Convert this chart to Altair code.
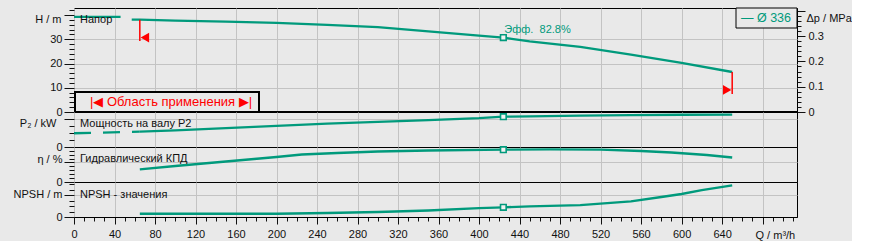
import altair as alt
import pandas as pd

# ---------------- data ----------------
Q_H = [57, 65, 100, 150, 200, 250, 300, 350, 400, 424, 450, 500, 550, 600, 650]
H_M = [38.1, 38.1, 37.7, 37.3, 36.8, 35.9, 35.0, 33.3, 31.5, 30.7, 29.1, 26.9, 23.7, 20.3, 16.5]
Q_H_EXT = [0, 46]
H_EXT = [39.2, 39.2]

Q_P2 = [65, 100, 150, 200, 250, 300, 350, 400, 424, 450, 500, 550, 600, 650]
P2_KW = [21.6, 23.6, 26.5, 29.8, 33.0, 35.6, 38.0, 40.7, 42.8, 43.3, 44.4, 45.0, 45.5, 45.6]
Q_P2_EXT = [0, 65]
P2_EXT = [19.4, 21.6]

Q_ETA = [65, 100, 150, 200, 225, 260, 300, 350, 424, 470, 520, 560, 590, 625, 650]
ETA = [32.5, 41.0, 52.5, 64.1, 70.5, 74.3, 78.2, 80.7, 82.8, 83.8, 82.8, 79.5, 75.6, 69.2, 62.8]

Q_NPSH = [65, 200, 250, 300, 350, 400, 424, 450, 500, 550, 580, 600, 620, 650]
NPSH = [1.5, 1.5, 1.84, 2.3, 3.0, 4.05, 4.46, 4.92, 5.43, 7.18, 9.2, 10.58, 12.33, 14.58]

Q_OP = 424
H_OP, P2_OP, ETA_OP, NPSH_OP = 30.7, 42.8, 82.8, 4.46
Q_MIN, Q_MAX = 65, 650
EFF_LABEL = "Эфф.\u00a0\u00a082.8%"
LEGEND_LABEL = "— Ø 336"
RANGE_LABEL = "|◀ Область применения ▶|"

# ---------------- style ----------------
TEAL = "#009a7c"
RED = "#ff0000"
BG = "#e9e9e9"
GRID = "#c3c3c3"
FONT = "Liberation Sans"
W = 723
XMAX = 714

xscale = alt.Scale(domain=[0, XMAX], nice=False, zero=False)


def grid_x_axis():
    return alt.Axis(values=list(range(0, XMAX, 40)), grid=True, gridColor=GRID,
                    labels=False, ticks=False, domain=False, title=None)


bottom_axis = alt.Axis(
    values=list(range(0, XMAX, 10)), grid=True, gridColor=GRID,
    gridOpacity={"condition": {"test": "datum.value % 40 == 0", "value": 1}, "value": 0},
    tickSize={"condition": {"test": "datum.value % 40 == 0", "value": 7}, "value": 4},
    labelExpr="datum.value % 40 == 0 && datum.value <= 640 ? datum.label : ''",
    labelOverlap=False, labelFlush=False, labelPadding=4, domain=True, domainColor="black",
    title="Q / m³/h", titleX=681, titleY=18, titleAlign="left", titleBaseline="middle",
)


def y_axis(vals, major_test, grid_test, label_test, title, tx, ty):
    return alt.Axis(
        values=vals, grid=True, gridColor=GRID,
        gridOpacity={"condition": {"test": grid_test, "value": 1}, "value": 0},
        tickSize={"condition": {"test": major_test, "value": 10}, "value": 5},
        labelExpr=f"{label_test} ? datum.label : ''", labelOverlap=False, labelPadding=2,
        domain=False, title=title, titleAngle=0, titleX=tx, titleY=ty,
        titleAlign="right", titleBaseline="middle",
    )


def df(q, v):
    return pd.DataFrame({"q": q, "v": v})


def curve(q, v, yenc, dash=None):
    kw = dict(color=TEAL, strokeWidth=2.3)
    if dash:
        kw["strokeDash"] = dash
    return alt.Chart(df(q, v)).mark_line(**kw).encode(
        x=alt.X("q:Q", scale=xscale, axis=grid_x_axis()), y=yenc)


def op_point(v, yenc, xaxis):
    return alt.Chart(df([Q_OP], [v])).mark_point(
        shape="square", filled=True, fill="#f2f2f2", stroke=TEAL, strokeWidth=1.6,
        size=32, opacity=1).encode(x=alt.X("q:Q", scale=xscale, axis=xaxis), y=yenc)


def label(text, x, y, **kw):
    base = dict(align="left", baseline="middle", fontSize=11, color="#111111", font=FONT)
    base.update(kw)
    return alt.Chart(pd.DataFrame({"t": [text]})).mark_text(**base).encode(
        x=alt.value(x), y=alt.value(y), text="t:N")


# ---------------- top panel: head ----------------
h_scale = alt.Scale(domain=[0, 42.9], nice=False, zero=False)
h_axis = y_axis(list(range(0, 43, 2)), "datum.value % 10 == 0",
                "datum.value > 0 && datum.value < 40 && datum.value % 10 == 0",
                "datum.value % 10 == 0 && datum.value < 40", "H / m", -13, 11)
yH = alt.Y("v:Q", scale=h_scale, axis=h_axis)

limits = pd.DataFrame({"q": [Q_MIN, Q_MAX], "v": [38.1, 16.5], "v2": [29.3, 7.4]})
arrows = pd.DataFrame({"q": [70, 645], "v": [30.7, 9.1], "s": ["triangle-left", "triangle-right"]})

top_inner = alt.layer(
    alt.Chart(df([0], [0])).mark_rule(color="black", strokeWidth=2).encode(y=yH),
    curve(Q_H_EXT, H_EXT, yH),
    curve(Q_H, H_M, yH),
    op_point(H_OP, yH, grid_x_axis()),
    alt.Chart(limits).mark_rule(color=RED, strokeWidth=1.5).encode(
        x=alt.X("q:Q", scale=xscale, axis=grid_x_axis()), y=yH, y2="v2"),
    alt.Chart(arrows).mark_point(filled=True, color=RED, opacity=1, size=95).encode(
        x=alt.X("q:Q", scale=xscale, axis=grid_x_axis()), y=yH,
        shape=alt.Shape("s:N", scale=None)),
    alt.Chart(df([Q_OP], [H_OP])).mark_text(
        align="left", baseline="middle", dx=1, dy=-8, fontSize=11, color=TEAL, font=FONT
    ).encode(x=alt.X("q:Q", scale=xscale, axis=grid_x_axis()), y=yH, text=alt.value(EFF_LABEL)),
    label("Напор", 6, 12),
    alt.Chart(pd.DataFrame({"a": [0]})).mark_rect(fill=BG, stroke="black", strokeWidth=1).encode(
        x=alt.value(662), x2=alt.value(723), y=alt.value(0), y2=alt.value(20)),
    label(LEGEND_LABEL, 692, 10, align="center", fontSize=12.5, color=TEAL),
    alt.Chart(pd.DataFrame({"a": [0]})).mark_rect(fill=BG, stroke="black", strokeWidth=2).encode(
        x=alt.value(1), x2=alt.value(185), y=alt.value(84), y2=alt.value(104)),
    label(RANGE_LABEL, 97, 94, align="center", fontSize=13, color=RED),
    alt.Chart(pd.DataFrame({"a": [0]})).mark_rule(color=BG, strokeWidth=0.01).encode(
        x=alt.value(-73), x2=alt.value(-72), y=alt.value(-7), y2=alt.value(-6)),
)

dp_axis = alt.Axis(
    orient="right", values=[round(i * 0.02, 2) for i in range(21)],
    tickSize={"condition": {"test": "round(datum.value * 50) % 5 == 0", "value": 8}, "value": 4},
    labelExpr="round(datum.value * 50) % 5 == 0 && datum.value < 0.35 ? format(datum.value, '~g') : ''",
    labelOverlap=False, labelPadding=3, grid=False, domain=False,
    title="Δp / MPa", titleAngle=0, titleX=9, titleY=10, titleAlign="left", titleBaseline="middle",
)
dp_layer = alt.Chart(pd.DataFrame({"dp": [0.0]})).mark_rule(opacity=0).encode(
    y=alt.Y("dp:Q", scale=alt.Scale(domain=[0, 0.411], nice=False), axis=dp_axis))

top = alt.layer(top_inner, dp_layer).resolve_scale(y="independent").properties(width=W, height=104)

# ---------------- P2 panel ----------------
p_scale = alt.Scale(domain=[0, 49.4], nice=False, zero=False)
p_axis = y_axis([0, 10, 20, 30, 40], "datum.value == 0 || datum.value == 40", "datum.value == 40",
                "datum.value == 0", "P₂ / kW", -18, 11)
yP = alt.Y("v:Q", scale=p_scale, axis=p_axis)
p2 = alt.layer(
    curve(Q_P2_EXT, P2_EXT, yP, dash=[17, 12]),
    curve(Q_P2, P2_KW, yP),
    op_point(P2_OP, yP, grid_x_axis()),
    label("Мощность на валу P2", 6, 12),
).properties(width=W, height=35)

# ---------------- efficiency panel ----------------
e_scale = alt.Scale(domain=[0, 89.7], nice=False, zero=False)
e_axis = y_axis(list(range(0, 90, 10)), "datum.value == 0 || datum.value == 50", "datum.value == 50",
                "datum.value == 0", "η / %", -12, 12)
yE = alt.Y("v:Q", scale=e_scale, axis=e_axis)
eta = alt.layer(
    curve(Q_ETA, ETA, yE),
    op_point(ETA_OP, yE, grid_x_axis()),
    label("Гидравлический КПД", 6, 11.5),
).properties(width=W, height=35)

# ---------------- NPSH panel ----------------
n_scale = alt.Scale(domain=[0, 16.1], nice=False, zero=False)
n_axis = y_axis([0, 2.5, 5, 7.5, 10, 12.5, 15], "datum.value == 0 || datum.value == 10",
                "datum.value == 10", "datum.value == 0", "NPSH / m", -12, 12)
yN = alt.Y("v:Q", scale=n_scale, axis=n_axis)


def curve_b(q, v, yenc):
    return alt.Chart(df(q, v)).mark_line(color=TEAL, strokeWidth=2.3).encode(
        x=alt.X("q:Q", scale=xscale, axis=bottom_axis), y=yenc)


npsh = alt.layer(
    curve_b(Q_NPSH, NPSH, yN),
    op_point(NPSH_OP, yN, bottom_axis),
    label("NPSH - значения", 6, 13),
).properties(width=W, height=35)

chart = alt.vconcat(top, p2, eta, npsh, spacing=0, bounds="flush").properties(
    padding=0, background=BG
).configure_view(stroke="black", strokeWidth=1).configure_axis(
    labelFont=FONT, titleFont=FONT, labelFontSize=11, titleFontSize=11,
    labelColor="#111111", titleColor="#111111", tickColor="#111111",
    titleFontWeight="normal"
)

chart.save("out.html", embed_options={"renderer": "svg", "actions": False})
